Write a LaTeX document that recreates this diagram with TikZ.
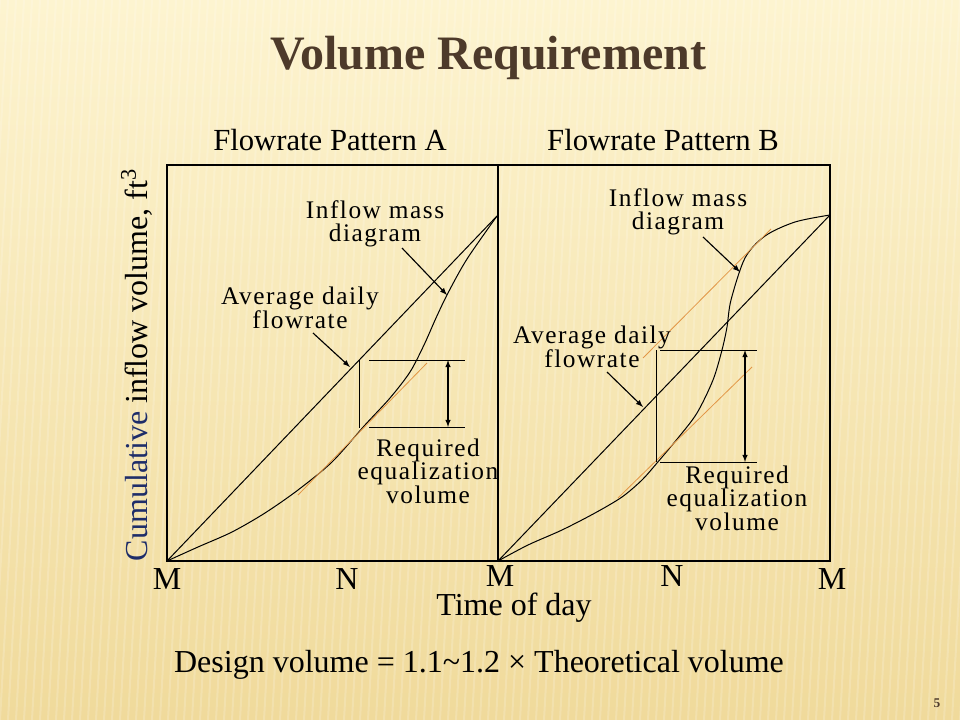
\documentclass[tikz,border=0pt]{standalone}
\usepackage{fontspec}
\setmainfont{Liberation Serif}
\newfontfamily\spacedfont[LetterSpace=6]{Liberation Serif}
\usepackage{tikz}
\usetikzlibrary{arrows,positioning}

\definecolor{TitleBrown}{RGB}{77,58,42}
\definecolor{CumBlue}{RGB}{30,45,105}
\definecolor{TangentOrange}{RGB}{226,150,70}
\definecolor{PaperLight}{RGB}{253,244,208}
\definecolor{PaperDark}{RGB}{240,218,155}

\begin{document}
\begin{tikzpicture}[x=0.75pt,y=-0.75pt]
  \tikzset{CalloutStyle/.style = {align=center,
                                  inner sep   = 0pt,
                                  text        = black,
                                  font        = \spacedfont\fontsize{19}{17.5}\selectfont},
           AxisStyle/.style    = {inner sep=0pt, font=\fontsize{24}{26}\selectfont},
           CurveStyle/.style   = {line width=0.75pt, black},
           TangentStyle/.style = {line width=0.6pt, TangentOrange},
           PointerStyle/.style = {-latex, line width=0.85pt}}
  \useasboundingbox (0,0) rectangle (960,720);
  %%% FOND %%%
  \shade[top color=PaperLight, bottom color=PaperDark] (0,0) rectangle (960,720);
  \begin{scope}
    \clip (0,0) rectangle (960,720);
    \foreach \sx in {-40,-32,...,1000}
      \draw[white, opacity=0.18, line width=1.5pt] (\sx,0) -- (\sx-40,720);
  \end{scope}
  %%% TITRES %%%
  \node[font=\bfseries\fontsize{36}{40}\selectfont, text=TitleBrown](title) at (488,58){Volume Requirement};
  \node[inner sep=0pt, font=\fontsize{23}{26}\selectfont](patA) at (330,140){Flowrate Pattern A};
  \node[right=75pt of patA, inner sep=0pt, font=\fontsize{23}{26}\selectfont](patB){Flowrate Pattern B};
  %%% CADRE %%%
  \coordinate (MA) at (167,561);
  \coordinate (MB) at (498,561);
  \coordinate (TopB) at (498,165);
  \coordinate (TopC) at (830,165);
  \draw[line width=1pt] (MA) rectangle (TopC);
  \draw[line width=1pt] (MB) -- (TopB);
  %%% PATTERN A %%%
  \coordinate (EndA) at (497,216);
  \draw[CurveStyle] (MA) -- (EndA);
  \draw[CurveStyle] plot[smooth] coordinates {(167,561) (198,547) (232,532) (265,513) (298,490) (332,462) (365,425) (390,398) (410,372) (424,345) (436,318) (448,293) (467,259) (497,216)};
  \coordinate (tanA1) at (298,495);
  \coordinate (tanA2) at (427,363);
  \draw[TangentStyle] (tanA1) -- (tanA2);
  \coordinate (vA1) at (359,360);
  \coordinate (vA2) at (359,428);
  \draw[CurveStyle] (vA1) -- (vA2);
  \coordinate (hA1) at (369,360);
  \coordinate (hA2) at (465,360);
  \coordinate (hA3) at (369,427);
  \coordinate (hA4) at (465,427);
  \draw[CurveStyle] (hA1) -- (hA2);
  \draw[CurveStyle] (hA3) -- (hA4);
  \coordinate (dA1) at (448,360);
  \coordinate (dA2) at (448,427);
  \draw[PointerStyle, latex-latex] (dA1) -- (dA2);
  \node[CalloutStyle](inflowA) at (375,224){Inflow mass\\diagram};
  \node[CalloutStyle](avgA) at (300,308){Average daily\\flowrate};
  \node[CalloutStyle](reqA) at (428,471){Required\\equalization\\volume};
  \coordinate (inflowAtail) at (402,248);
  \coordinate (inflowAtip) at (447,295);
  \draw[PointerStyle] (inflowAtail) -- (inflowAtip);
  \coordinate (avgAtail) at (313,333);
  \coordinate (avgAtip) at (350,367);
  \draw[PointerStyle] (avgAtail) -- (avgAtip);
  %%% PATTERN B %%%
  \coordinate (EndB) at (830,215);
  \draw[CurveStyle] (MB) -- (EndB);
  \draw[CurveStyle] plot[smooth] coordinates {(498,561) (528,545) (562,530) (595,513) (622,497) (642,480) (657,463) (678,438) (697,413) (713,380) (722,350) (727,327) (731,300) (745,258) (765,236) (795,222) (830,215)};
  \coordinate (tanB1) at (643,358);
  \coordinate (tanB2) at (771,229);
  \draw[TangentStyle] (tanB1) -- (tanB2);
  \coordinate (tanB3) at (618,498);
  \coordinate (tanB4) at (752,367);
  \draw[TangentStyle] (tanB3) -- (tanB4);
  \coordinate (vB1) at (656,350);
  \coordinate (vB2) at (656,462);
  \draw[CurveStyle] (vB1) -- (vB2);
  \coordinate (hB1) at (660,350);
  \coordinate (hB2) at (757,350);
  \coordinate (hB3) at (660,462);
  \coordinate (hB4) at (757,462);
  \draw[CurveStyle] (hB1) -- (hB2);
  \draw[CurveStyle] (hB3) -- (hB4);
  \coordinate (dB1) at (745,350);
  \coordinate (dB2) at (745,462);
  \draw[PointerStyle, latex-latex] (dB1) -- (dB2);
  \node[CalloutStyle](inflowB) at (678,212){Inflow mass\\diagram};
  \node[CalloutStyle](avgB) at (592,347){Average daily\\flowrate};
  \node[CalloutStyle](reqB) at (737,498){Required\\equalization\\volume};
  \coordinate (inflowBtail) at (703,237);
  \coordinate (inflowBtip) at (740,272);
  \draw[PointerStyle] (inflowBtail) -- (inflowBtip);
  \coordinate (avgBtail) at (607,372);
  \coordinate (avgBtip) at (643,407);
  \draw[PointerStyle] (avgBtail) -- (avgBtip);
  %%% AXES %%%
  \node[AxisStyle](m1) at (167,579){M};
  \node[AxisStyle](n1) at (347,579){N};
  \node[AxisStyle](m2) at (500,576){M};
  \node[AxisStyle](n2) at (672,576){N};
  \node[AxisStyle](m3) at (832,579){M};
  \node[AxisStyle](time) at (514,608){Time of day};
  \node[AxisStyle, rotate=90](cumul) at (137,365){\textcolor{CumBlue}{Cumulative} inflow volume, ft\textsuperscript{3}};
  \node[AxisStyle](design) at (479,665){Design volume = 1.1\textasciitilde 1.2 × Theoretical volume};
  \node[inner sep=0pt, font=\bfseries\fontsize{10}{12}\selectfont, text=TitleBrown](page) at (937,703){5};
\end{tikzpicture}
\end{document}
